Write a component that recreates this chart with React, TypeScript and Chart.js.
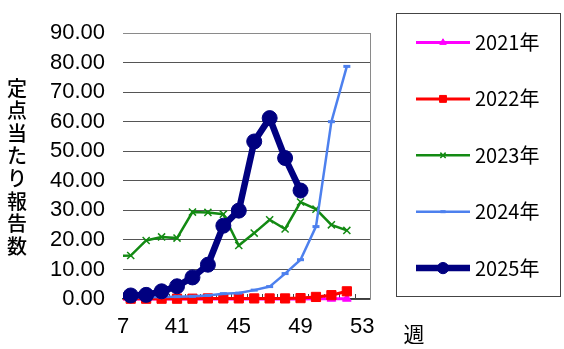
import React, { useEffect, useRef } from 'react';
import { Chart, registerables } from 'chart.js';
import { drawPoint } from 'chart.js/helpers';

Chart.register(...registerables);

// ---- data ----
const weeks = [37, 38, 39, 40, 41, 42, 43, 44, 45, 46, 47, 48, 49, 50, 51, 52];
const s2021 = [0.0, 0.0, 0.0, 0.0, 0.0, 0.0, 0.0, 0.0, 0.0, 0.0, 0.0, 0.0, 0.0, 0.1, 0.1, 0.1];
const s2022 = [0.1, 0.1, 0.1, 0.1, 0.1, 0.1, 0.2, 0.2, 0.2, 0.2, 0.2, 0.2, 0.3, 0.7, 1.3, 2.6];
const s2023 = [14.6, 14.7, 19.8, 21.0, 20.6, 29.4, 29.3, 28.7, 18.1, 22.3, 26.8, 23.7, 32.8, 30.4, 25.1, 23.2];
const s2024 = [0.5, 0.5, 0.6, 0.7, 0.8, 0.9, 1.2, 1.8, 2.0, 3.0, 4.2, 8.6, 13.3, 24.5, 60.0, 78.7];
const s2025 = [1.0, 1.2, 1.4, 2.6, 4.3, 7.3, 11.6, 24.8, 29.9, 53.3, 61.2, 47.7, 36.7];
const seriesNames = ['2021年', '2022年', '2023年', '2024年', '2025年'];
const xTickWeeks = [37, 41, 45, 49, 53];
const xTickLabels = ['7', '41', '45', '49', '53'];
const yTickValues = [0, 10, 20, 30, 40, 50, 60, 70, 80, 90];
const yTitle = '定点当たり報告数';
const xTitle = '週';

const toPoints = (vals: number[]) => vals.map((v, i) => ({ x: weeks[i], y: v }));

const CJK = "'Noto Sans CJK JP', 'Noto Sans', sans-serif";

const decorPlugin = {
  id: 'decor',
  beforeDatasetsDraw(chart: any) {
    const { ctx, chartArea: ca } = chart;
    const xs = chart.scales.x;
    ctx.save();
    // inner tick marks at category boundaries
    ctx.strokeStyle = '#444';
    ctx.lineWidth = 1;
    for (const w of weeks) {
      const px = Math.round(xs.getPixelForValue(w + 0.5)) + 0.5;
      if (px > ca.left + 1 && px < ca.right - 1) {
        ctx.beginPath();
        ctx.moveTo(px, ca.bottom);
        ctx.lineTo(px, ca.bottom - 5);
        ctx.stroke();
      }
    }
    // right frame line
    ctx.strokeStyle = '#8a8a8a';
    ctx.beginPath();
    ctx.moveTo(Math.round(ca.right) + 0.5, ca.top);
    ctx.lineTo(Math.round(ca.right) + 0.5, ca.bottom);
    ctx.stroke();
    ctx.restore();
  },
  afterDraw(chart: any) {
    const { ctx } = chart;
    ctx.save();
    // vertical y title
    ctx.fillStyle = '#000';
    ctx.font = `500 20px ${CJK}`;
    ctx.textAlign = 'center';
    ctx.textBaseline = 'middle';
    Array.from(yTitle).forEach((ch, i) => {
      ctx.fillText(ch, 17, 88 + i * 22.6);
    });
    // x title
    ctx.font = `21px ${CJK}`;
    ctx.fillText(xTitle, 414, 334);

    // legend box
    ctx.strokeStyle = '#444';
    ctx.lineWidth = 1;
    ctx.strokeRect(396.5, 13.5, 164, 283);
    chart.data.datasets.forEach((ds: any, i: number) => {
      const y = 42.5 + i * 56.4;
      ctx.strokeStyle = ds.borderColor;
      ctx.fillStyle = ds.pointBackgroundColor;
      ctx.lineWidth = ds.borderWidth;
      ctx.beginPath();
      ctx.moveTo(416, y);
      ctx.lineTo(470, y);
      ctx.stroke();
      ctx.lineWidth = ds.pointBorderWidth;
      drawPoint(ctx, {
        pointStyle: ds.pointStyle,
        rotation: 0,
        radius: ds.pointRadius * 0.75,
        borderWidth: ds.pointBorderWidth,
      } as any, 443, y);
      ctx.fillStyle = '#000';
      ctx.font = `20px ${CJK}`;
      ctx.textAlign = 'left';
      ctx.textBaseline = 'middle';
      ctx.fillText(ds.label, 475, y);
    });
    ctx.restore();
  },
};

export default function App() {
  const ref = useRef<HTMLCanvasElement>(null);
  useEffect(() => {
    document.body.style.margin = '0';
    if (!ref.current) return;
    Chart.defaults.font.family = "'Liberation Sans', Arial, sans-serif";
    const clip = { left: 0, top: 20, right: 20, bottom: 20 };
    const chart = new Chart(ref.current, {
      type: 'line',
      data: {
        datasets: [
          {
            label: seriesNames[0], data: toPoints(s2021), borderColor: '#ff00ff', pointBackgroundColor: '#ff00ff',
            pointBorderColor: '#ff00ff', borderWidth: 3, pointStyle: 'triangle', pointRadius: 5, pointBorderWidth: 1,
            order: 5, clip,
          },
          {
            label: seriesNames[1], data: toPoints(s2022), borderColor: '#ff0000', pointBackgroundColor: '#ff0000',
            pointBorderColor: '#ff0000', borderWidth: 3, pointStyle: 'rect', pointRadius: 6.5, pointBorderWidth: 1,
            order: 4, clip,
          },
          {
            label: seriesNames[2], data: toPoints(s2023), borderColor: '#138a13', pointBackgroundColor: '#138a13',
            pointBorderColor: '#138a13', borderWidth: 2.5, pointStyle: 'crossRot', pointRadius: 5, pointBorderWidth: 1.5,
            order: 3, clip,
          },
          {
            label: seriesNames[3], data: toPoints(s2024), borderColor: '#4d80ee', pointBackgroundColor: '#4d80ee',
            pointBorderColor: '#4d80ee', borderWidth: 2.5, pointStyle: 'line', pointRadius: 3.5, pointBorderWidth: 3,
            order: 2, clip,
          },
          {
            label: seriesNames[4], data: toPoints(s2025), borderColor: '#000080', pointBackgroundColor: '#000080',
            pointBorderColor: '#000080', borderWidth: 6.5, pointStyle: 'circle', pointRadius: 7.5, pointBorderWidth: 1,
            order: 1, clip,
          },
        ],
      },
      options: {
        animation: false,
        responsive: false,
        events: [],
        layout: { padding: { left: 30, right: 194, top: 33, bottom: 0 } },
        plugins: { legend: { display: false }, tooltip: { enabled: false }, title: { display: false } },
        elements: { line: { tension: 0 } },
        scales: {
          x: {
            type: 'linear',
            min: 37.5,
            max: 53.5,
            afterBuildTicks: (scale: any) => {
              scale.ticks = xTickWeeks.map((w) => ({ value: Math.max(w, scale.min) }));
            },
            afterFit: (scale: any) => { scale.height = 50; },
            ticks: {
              autoSkip: false,
              maxRotation: 0,
              padding: 15,
              color: '#000',
              font: { size: 22 },
              callback: (_v: any, i: number) => xTickLabels[i],
            },
            grid: { drawOnChartArea: false, drawTicks: false },
            border: { display: true, color: '#3c3c3c', width: 1.5 },
          },
          y: {
            type: 'linear',
            min: 0,
            max: 90,
            afterBuildTicks: (scale: any) => {
              scale.ticks = yTickValues.map((v) => ({ value: v }));
            },
            afterFit: (scale: any) => { scale.width = 93; },
            ticks: {
              padding: 18,
              color: '#000',
              font: { size: 22 },
              callback: (v: any) => Number(v).toFixed(2),
            },
            grid: {
              drawTicks: false,
              color: (c: any) => (c.tick && c.tick.value === 90 ? '#8a8a8a' : '#555'),
              lineWidth: 1,
            },
            border: { display: false },
          },
        },
      },
      plugins: [decorPlugin],
    } as any);
    return () => chart.destroy();
  }, []);
  return (
    <div style={{ width: 564, height: 349 }}>
      <canvas ref={ref} width={564} height={349} style={{ display: 'block' }} />
    </div>
  );
}
